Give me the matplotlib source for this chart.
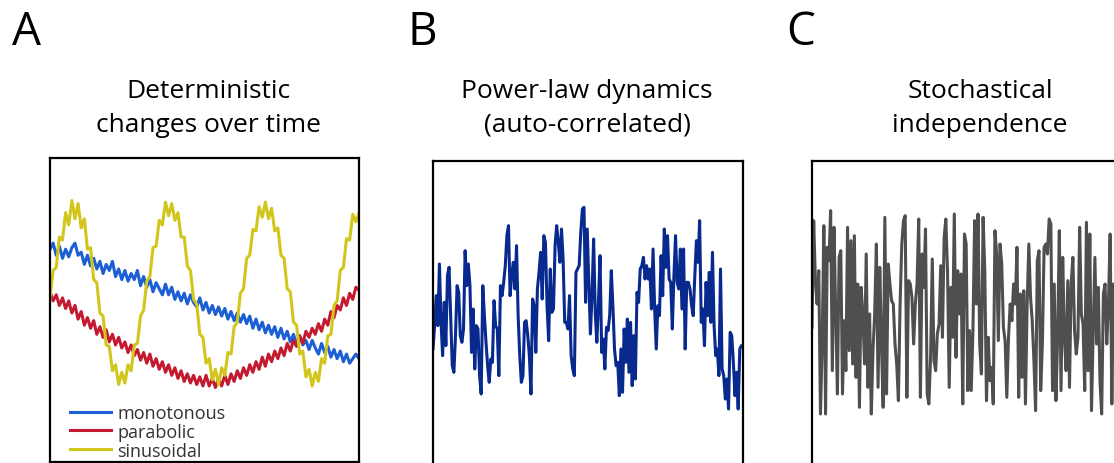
import matplotlib
matplotlib.use("Agg")
import matplotlib.pyplot as plt

plt.rcParams['font.family'] = ['Open Sans', 'DejaVu Sans']

# panel A: deterministic changes (0 = bottom of box, 100 = top)
monotonous = [70, 72, 68, 71, 67, 70, 67.5, 70.5, 72, 68, 69, 65, 68, 64.5, 67, 63.5, 66, 62, 65, 63,
              66, 61, 63.5, 60, 63, 59.5, 62, 60, 63, 58, 61, 57.5, 60, 56, 59, 57, 55, 58.5, 55, 57.5,
              53.5, 56, 53, 55.5, 52, 55, 52.5, 51, 54, 50, 52.5, 49, 51.5, 48.5, 51, 48, 50.5, 47, 49.5, 46.5,
              49, 46, 48.5, 45.5, 48, 44, 47, 43.5, 46, 42.5, 45, 42, 44.5, 41, 44, 40.5, 43, 39.5, 42, 39,
              41.5, 38.5, 40, 37, 40, 37.5, 35.5, 39, 36, 38, 34.5, 37, 34, 36.5, 33, 35.5, 32.5, 34, 35.5, 34]
parabolic = [56, 53, 55, 51.5, 54, 50.5, 53, 49, 51.5, 47, 49.5, 45, 47.5, 44, 46.5, 42, 44.5, 41, 43.5, 39.5,
             42, 38.5, 41, 37.5, 39.5, 36, 38.5, 35, 37, 33.5, 36, 32.5, 35.5, 31.5, 34, 30.5, 33, 29.5, 32, 28.5,
             31, 27.5, 30, 26.5, 29, 26, 28.5, 25.5, 28, 25, 28.5, 25, 27.5, 24.5, 27.5, 25, 28.5, 25.5, 29, 26.5,
             30, 27.5, 31, 28.5, 32, 29.5, 33, 30.5, 34.5, 31.5, 35.5, 33, 36.5, 34, 37.5, 35, 39, 36.5, 40, 38,
             41.5, 39, 43, 41, 44, 42, 45.5, 43, 47, 45, 49.5, 47.5, 51.5, 50, 54, 51.5, 55.5, 53.5, 57.5, 56.5]
sinusoidal = [54, 63, 64, 74, 73, 82, 78, 86, 80, 85, 77, 80, 70, 70.5, 60, 59, 49, 48, 38.5, 38,
              30, 32, 25.5, 29.5, 26, 32, 30, 38.5, 39, 48, 50, 59.5, 61, 70.5, 71, 79.5, 78, 85.5, 81, 85,
              79.5, 82, 74, 74, 64.5, 63, 53.5, 52, 42, 41, 32.5, 34, 27, 30.5, 25.5, 31, 28.5, 36, 35.5, 44.5,
              46, 55.5, 57, 67, 68, 76.5, 76, 84, 80.5, 85.5, 80, 83.5, 76, 77, 68, 67, 57, 56, 46, 45,
              35.5, 36.5, 28, 30.5, 25, 29.5, 26.5, 34, 32.5, 41.5, 42, 51.5, 53, 63, 64, 73.5, 73, 81.5, 79, 82]
series_a = [("monotonous", monotonous, "#1c5fd4"),
            ("parabolic", parabolic, "#c41a30"),
            ("sinusoidal", sinusoidal, "#d2c51c")]

# panel B: power-law (auto-correlated) signal
powerlaw = [-1.2, -0.5, 0.4, -0.5, 1.35, -0.4, -1.4, 0.2, -1.1, 1.0, 1.25, -0.2, -1.7, -1.9, -0.8, 0.7, 0.5, -0.8,
            -1.0, -0.6, 1.75, 0.7, 1.35, 0.7, -1.3, 0.0, -1.8, -0.5, -0.6, -2.0, -2.55, 0.7, -0.2, -1.0, -1.7, -2.2,
            -1.5, -1.6, 0.25, -0.5, -0.6, -2.0, 0.7, 0.4, 0.8, 1.3, 2.2, 2.5, 0.4, 1.0, 1.4, 0.6, 1.9, -0.2,
            -1.4, -2.2, -2.0, -0.4, -0.35, -0.8, -1.4, -2.55, 0.3, 0.1, -1.3, 0.6, 1.1, 1.7, 0.3, 2.2, 2.0, 0.1,
            -0.95, 1.2, -0.1, 0.0, 1.9, 2.5, 2.0, 1.4, 2.4, 1.5, -0.4, -0.4, -0.6, 0.4, -1.4, -1.8, -2.0, 1.1,
            1.2, 1.3, 2.3, 3.0, 3.05, 0.2, 2.4, 0.8, -0.75, 0.4, 2.1, -0.1, -1.0, 0.2, 1.6, -1.3, -0.9, -1.8,
            -0.55, -0.65, -0.2, 1.15, 0.1, -1.2, -1.7, -1.6, -2.6, -1.2, -2.5, -0.6, -1.6, -0.3, -1.9, -0.4, -2.3, -0.8,
            -2.1, 0.5, 0.2, 1.2, 1.3, 1.55, 0.9, 1.3, 0.9, 1.2, 0.0, 1.8, 0.0, -1.2, 0.1, -0.2, 1.6, 0.4,
            2.4, 1.25, 2.2, 0.9, 0.8, -0.6, 1.0, 2.2, 0.8, 0.6, 1.8, 0.0, 1.8, -1.2, 0.8, 0.8, 0.6, 0.1,
            -0.2, 1.0, 2.05, 1.4, 2.65, -0.4, 0.0, -1.1, 0.8, -0.2, 1.1, -0.4, 1.7, -0.5, -1.4, -1.2, -2.0, 1.2,
            -1.8, -2.0, -2.7, -2.1, -3.0, -0.7, -0.8, -1.6, -2.6, -1.9, -3.0, -1.2, -1.1, -1.1]

# panel C: stochastically independent signal
independent = [-0.4, 2.8, 1.0, 0.3, 1.3, -3.0, -0.9, 2.65, -3.0, 2.0, 1.6, 3.1, -1.7, 2.6, 0.0, -2.4, 1.7, 1.9,
               -2.4, -0.2, -1.7, 2.6, -1.1, 2.2, -1.5, 2.35, -1.9, 0.9, -2.8, 0.8, 0.0, -1.5, 1.8, -2.2, 0.0, -3.0,
               -1.1, 0.0, 2.1, -2.2, 1.4, -0.9, -2.8, 2.9, -2.4, 1.5, 0.9, 0.4, 0.3, -0.9, -1.5, -2.6, 0.3, 2.1,
               2.8, 2.95, -2.5, 1.0, 0.9, 0.5, -0.9, 0.3, 0.9, 2.85, -2.5, 1.8, 0.8, 2.55, -2.4, -2.7, -1.3, 1.65,
               -1.4, -1.7, -0.6, -0.3, 1.45, -0.7, 2.3, 2.85, 1.3, -2.2, 0.8, -0.7, 3.0, -1.3, 1.3, 0.0, 1.2,
               -2.7, 2.4, 2.1, -2.3, -0.5, -2.3, -0.5, 2.8, 0.3, 3.0, -0.9, -1.8, 2.9, 1.3, -2.6, -0.7, -2.0,
               -1.6, -2.7, 2.5, 1.8, -0.8, 2.1, 1.5, -0.4, -0.8, -2.5, -0.7, 0.3, -0.2, 0.9, 0.3, 2.0, -2.5,
               0.6, -1.9, 0.7, -2.7, 0.3, 2.1, 0.5, -0.2, -1.4, -2.9, 1.6, 1.9, -2.3, -0.9, 2.0, 2.1, 1.8,
               2.85, 2.7, -2.3, 0.9, -2.6, -0.7, 2.5, -2.3, 1.7, -0.7, -1.7, 1.0, -2.2, 0.9, 1.7, -0.5, -1.2,
               -0.7, 2.6, 0.0, -0.3, -2.3, 2.75, -1.7, 2.4, -2.9, -0.5, 1.7, -0.9, 0.8, -2.0, -3.0, 0.6, 0.9,
               -0.9, 0.3, 2.4, -2.7, 0.9, -0.2, 1.8, -1.7, 0.5, -0.9]

panel_letters = ["A", "B", "C"]
titles = [("Deterministic", "changes over time"),
          ("Power-law dynamics", "(auto-correlated)"),
          ("Stochastical", "independence")]

W, H = 1114, 464
fig = plt.figure(figsize=(W / 100, H / 100), dpi=100)


def box(left, top, width=310, height=304):
    ax = fig.add_axes([left / W, 1 - (top + height) / H, width / W, height / H])
    ax.set_xticks([])
    ax.set_yticks([])
    for s in ax.spines.values():
        s.set_linewidth(1.6)
        s.set_color("black")
    return ax


# A
axA = box(50, 159, width=309)
for name, vals, col in series_a:
    axA.plot(range(len(vals)), vals, color=col, lw=2.2, label=name)
axA.set_xlim(0, len(monotonous) - 1)
axA.set_ylim(0, 100)
leg = axA.legend(loc="lower left", frameon=False, fontsize=13, handlelength=2.3,
                 handletextpad=0.35, labelspacing=0.05, borderaxespad=0.0,
                 bbox_to_anchor=(0.04, -0.016))
for t in leg.get_texts():
    t.set_color("#333333")

# B
axB = box(433, 162)
axB.plot(range(len(powerlaw)), powerlaw, color="#082a8e", lw=2.2)
axB.set_xlim(0, len(powerlaw) - 1)
axB.set_ylim(-4.68, 4.44)

# C
axC = box(812, 162)
axC.plot(range(len(independent)), independent, color="#4f4f4f", lw=2.2)
axC.set_xlim(0, len(independent) - 1)
axC.set_ylim(-4.53, 4.59)

# titles and panel letters
for letter, lx in zip(panel_letters, [12, 407, 786]):
    fig.text(lx / W, 1 - 45 / H, letter, fontsize=33, va="baseline", ha="left")
for (l1, l2), cx in zip(titles, [208, 587, 980]):
    fig.text(cx / W, 1 - 98 / H, l1, fontsize=19, ha="center", va="baseline", color="black")
    fig.text(cx / W, 1 - 132 / H, l2, fontsize=19, ha="center", va="baseline", color="black")

fig.savefig("out.png", dpi=100)
